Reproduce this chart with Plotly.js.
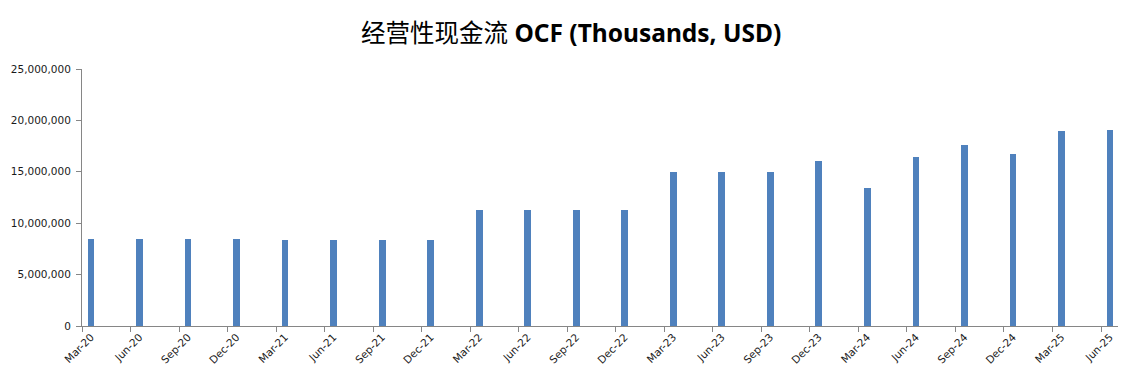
<!DOCTYPE html>
<html>
<head>
<meta charset="utf-8">
<script src="https://cdn.plot.ly/plotly-3.0.1.min.js"></script>
<style>html,body{margin:0;padding:0;background:#fff;}#chart{width:1131px;height:381px;}</style>
</head>
<body>
<div id="chart"></div>
<script>
const quarters = ["Mar-20","Jun-20","Sep-20","Dec-20","Mar-21","Jun-21","Sep-21","Dec-21","Mar-22","Jun-22","Sep-22","Dec-22","Mar-23","Jun-23","Sep-23","Dec-23","Mar-24","Jun-24","Sep-24","Dec-24","Mar-25","Jun-25"];
const ocfValues = [8500000,8500000,8500000,8500000,8400000,8400000,8400000,8400000,11300000,11300000,11300000,11300000,15000000,15000000,15000000,16050000,13400000,16450000,17600000,16750000,19000000,19100000];
const yTicks = [0,5000000,10000000,15000000,20000000,25000000];

const positions = quarters.map((q,i)=>i);

const trace = {
  type: 'bar',
  x: positions,
  y: ocfValues,
  width: 0.14,
  marker: {color: '#4F81BD', line: {width: 0}},
  hoverinfo: 'skip'
};

const layout = {
  width: 1131, height: 381,
  margin: {l: 82, r: 13, t: 69, b: 55},
  paper_bgcolor: '#fff', plot_bgcolor: '#fff',
  showlegend: false,
  title: {
    text: '<span style="font-family:\'Noto Sans CJK SC\';font-weight:normal">经营性现金流</span> <b>OCF (Thousands, USD)</b>',
    font: {family: 'Noto Sans, Noto Sans CJK SC', size: 24.5, color: '#000'},
    x: 0.505, xanchor: 'center', y: 0.912, yanchor: 'middle'
  },
  xaxis: {
    range: [-0.185, 21.165],
    tickmode: 'array', tickvals: positions, ticktext: quarters,
    tickangle: -45,
    ticks: '', showgrid: false, zeroline: false,
    showline: true, linecolor: '#868686', linewidth: 1,
    tickfont: {family: 'DejaVu Sans', size: 10.5, color: '#1a1a1a'},
    minor: {tick0: -0.185, dtick: 1, ticks: 'outside', ticklen: 5, tickcolor: '#868686', showgrid: false},
    fixedrange: true
  },
  yaxis: {
    range: [0, 25000000],
    tickmode: 'array', tickvals: yTicks,
    tickformat: ',d',
    ticks: 'outside', ticklen: 5, tickcolor: '#868686',
    ticklabelstandoff: 3,
    showgrid: false, zeroline: false,
    showline: true, linecolor: '#868686', linewidth: 1,
    tickfont: {family: 'DejaVu Sans', size: 10.5, color: '#1a1a1a'},
    fixedrange: true
  },
  bargap: 0
};

Plotly.newPlot('chart', [trace], layout, {displayModeBar: false, staticPlot: true});
</script>
</body>
</html>
